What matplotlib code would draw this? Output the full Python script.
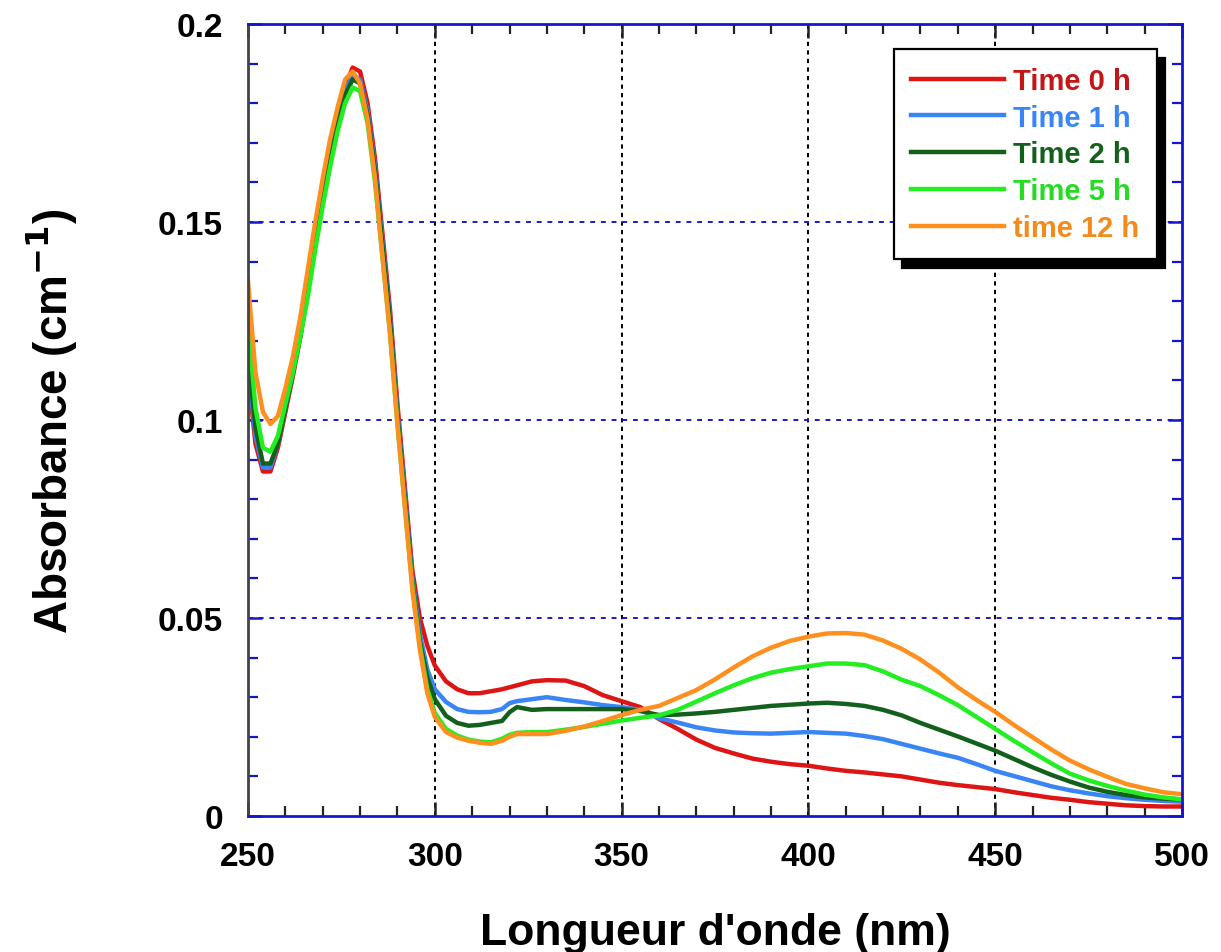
import matplotlib
matplotlib.use("Agg")
import matplotlib.pyplot as plt
from matplotlib.ticker import MultipleLocator, FuncFormatter

# ---- data ----
wavelength = [250, 252, 254, 256, 258, 260, 262, 264, 266, 268, 270, 272, 274, 276, 278,
              280, 282, 284, 286, 288, 290, 292, 294, 296, 298, 300, 303, 306, 309, 312,
              315, 318, 320, 322, 326, 330, 335, 340, 345, 350, 355, 360, 365, 370, 375,
              380, 385, 390, 395, 400, 405, 410, 415, 420, 425, 430, 435, 440, 445, 450,
              455, 460, 465, 470, 475, 480, 485, 490, 495, 500]

time_0h = [0.112, 0.094, 0.087, 0.087, 0.093, 0.102, 0.111, 0.121, 0.133, 0.145, 0.157, 0.167, 0.176, 0.184, 0.189,
           0.188, 0.180, 0.166, 0.147, 0.128, 0.104, 0.083, 0.062, 0.050, 0.043, 0.038, 0.034, 0.032, 0.031, 0.031,
           0.0315, 0.032, 0.0325, 0.033, 0.034, 0.0343, 0.0342, 0.0328, 0.0305, 0.029, 0.0275, 0.0245, 0.022, 0.0193, 0.0172,
           0.0158, 0.0145, 0.0137, 0.0131, 0.0127, 0.012, 0.0114, 0.011, 0.0105, 0.010, 0.0092, 0.0084, 0.0078, 0.0073, 0.0068,
           0.006, 0.0053, 0.0046, 0.0041, 0.0035, 0.0031, 0.0027, 0.0025, 0.0024, 0.0024]

time_1h = [0.114, 0.096, 0.088, 0.088, 0.094, 0.103, 0.112, 0.122, 0.134, 0.146, 0.157, 0.167, 0.176, 0.183, 0.187,
           0.186, 0.178, 0.164, 0.145, 0.126, 0.102, 0.081, 0.060, 0.046, 0.037, 0.032, 0.0288, 0.027, 0.0263, 0.0262,
           0.0263, 0.027, 0.0285, 0.029, 0.0295, 0.030, 0.0293, 0.0287, 0.028, 0.0275, 0.0268, 0.0247, 0.0236, 0.0224, 0.0216,
           0.0211, 0.0209, 0.0208, 0.021, 0.0212, 0.021, 0.0208, 0.0202, 0.0194, 0.0182, 0.017, 0.0158, 0.0147, 0.0131, 0.0114,
           0.0101, 0.0088, 0.0075, 0.0065, 0.0057, 0.005, 0.0045, 0.0041, 0.0038, 0.0036]

time_2h = [0.117, 0.098, 0.089, 0.089, 0.094, 0.103, 0.112, 0.121, 0.133, 0.145, 0.156, 0.166, 0.175, 0.182, 0.186,
           0.185, 0.177, 0.163, 0.144, 0.125, 0.101, 0.080, 0.059, 0.044, 0.035, 0.0295, 0.0253, 0.0235, 0.0228, 0.023,
           0.0235, 0.024, 0.0262, 0.0275, 0.0268, 0.027, 0.027, 0.027, 0.027, 0.027, 0.0265, 0.0255, 0.0256, 0.0259, 0.0263,
           0.0268, 0.0273, 0.0278, 0.0281, 0.0284, 0.0286, 0.0283, 0.0278, 0.0268, 0.0254, 0.0235, 0.0218, 0.0201, 0.0183, 0.0165,
           0.0144, 0.0123, 0.0104, 0.0087, 0.0072, 0.0061, 0.0053, 0.0047, 0.0044, 0.0042]

time_5h = [0.125, 0.103, 0.093, 0.092, 0.096, 0.104, 0.112, 0.121, 0.131, 0.143, 0.154, 0.164, 0.173, 0.180, 0.184,
           0.183, 0.175, 0.160, 0.141, 0.122, 0.099, 0.078, 0.058, 0.043, 0.032, 0.026, 0.022, 0.0203, 0.0193, 0.0188,
           0.0186, 0.0195, 0.0205, 0.021, 0.0212, 0.0212, 0.0218, 0.0225, 0.0233, 0.0241, 0.0248, 0.0254, 0.0268, 0.0289, 0.031,
           0.033, 0.0348, 0.0362, 0.0371, 0.0378, 0.0385, 0.0385, 0.0381, 0.0365, 0.0344, 0.0328, 0.0305, 0.028, 0.025, 0.022,
           0.019, 0.0161, 0.0133, 0.0107, 0.009, 0.0076, 0.0064, 0.0054, 0.0047, 0.0042]

time_12h = [0.135, 0.112, 0.102, 0.099, 0.101, 0.108, 0.116, 0.126, 0.138, 0.150, 0.161, 0.171, 0.179, 0.186, 0.188,
            0.185, 0.176, 0.161, 0.141, 0.122, 0.099, 0.078, 0.057, 0.042, 0.031, 0.025, 0.0212, 0.0198, 0.019, 0.0185,
            0.0182, 0.019, 0.020, 0.0207, 0.0207, 0.0207, 0.0215, 0.0226, 0.024, 0.0255, 0.0268, 0.0278, 0.0298, 0.0318, 0.0345,
            0.0375, 0.0403, 0.0425, 0.0442, 0.0453, 0.0461, 0.0462, 0.0458, 0.0443, 0.0422, 0.0395, 0.0362, 0.0325, 0.0293, 0.0263,
            0.023, 0.0199, 0.0168, 0.014, 0.0118, 0.0099, 0.0081, 0.007, 0.006, 0.0055]

labels = ["Time 0 h", "Time 1 h", "Time 2 h", "Time 5 h", "time 12 h"]
colors = ["#dd1515", "#3a85f5", "#13601c", "#22ee22", "#ff8f1f"]
text_colors = ["#c41616", "#3a85f5", "#13601c", "#22dd22", "#f28a1c"]

x_ticks = [250, 300, 350, 400, 450, 500]
y_ticks = [0, 0.05, 0.1, 0.15, 0.2]

# ---- figure ----
plt.rcParams['font.family'] = ['Liberation Sans', 'DejaVu Sans']
fig = plt.figure(figsize=(12.21, 9.53), dpi=100)
fig.patch.set_facecolor('white')
ax = fig.add_axes([248/1221, 1 - 817/953, (1182-248)/1221, (817-25)/953])

series = [time_0h, time_1h, time_2h, time_5h, time_12h]
for s, c, lab in zip(series, colors, labels):
    ax.plot(wavelength, s, color=c, lw=3.2, label=lab)

ax.set_xlim(250, 500)
ax.set_ylim(0, 0.2)
ax.set_xticks(x_ticks)
ax.set_yticks(y_ticks)
ax.xaxis.set_minor_locator(MultipleLocator(10))
ax.yaxis.set_minor_locator(MultipleLocator(0.01))
ax.yaxis.set_major_formatter(FuncFormatter(lambda v, p: '%g' % v))

# grid
for xv in [300, 350, 400, 450]:
    ax.axvline(xv, color='black', lw=1.4, ls=(0, (2.2, 2.2)), zorder=0.5)
for yv in [0.05, 0.1, 0.15]:
    ax.axhline(yv, color='#1a1ac8', lw=1.4, ls=(0, (2.5, 3)), zorder=0.5)

# spines
for side in ['top', 'bottom', 'right']:
    ax.spines[side].set_color('#1515d0')
    ax.spines[side].set_linewidth(2)
ax.spines['left'].set_color('#444444')
ax.spines['left'].set_linewidth(2)

ax.tick_params(axis='both', which='both', direction='in', top=True, right=True)
ax.tick_params(axis='x', which='major', length=10, width=1.8, color='#222222', pad=18)
ax.tick_params(axis='x', which='minor', length=7, width=1.6, color='#222222')
ax.tick_params(axis='y', which='major', length=10, width=1.8, color='#1515d0', pad=18)
ax.tick_params(axis='y', which='minor', length=7, width=1.6, color='#1515d0')
for lab in ax.get_xticklabels() + ax.get_yticklabels():
    lab.set_fontsize(24)
    lab.set_fontweight('bold')

ax.set_xlabel("Longueur d'onde (nm)", fontsize=32, fontweight='bold', labelpad=29)
ax.set_ylabel("Absorbance (cm$^{\\mathbf{-1}}$)", fontsize=33, fontweight='bold', labelpad=56)

leg = ax.legend(loc='upper right', bbox_to_anchor=(0.973, 0.968), borderaxespad=0,
                prop={'weight': 'bold', 'size': 21}, handlelength=3.2,
                handletextpad=0.3, labelspacing=0.3, borderpad=0.6, fancybox=False,
                framealpha=1, edgecolor='black',
                shadow={'ox': 6, 'oy': -6, 'color': 'black', 'alpha': 1})
leg.get_frame().set_linewidth(1.6)
for t, c in zip(leg.get_texts(), text_colors):
    t.set_color(c)

fig.savefig("out.png", dpi=100, facecolor='white')
